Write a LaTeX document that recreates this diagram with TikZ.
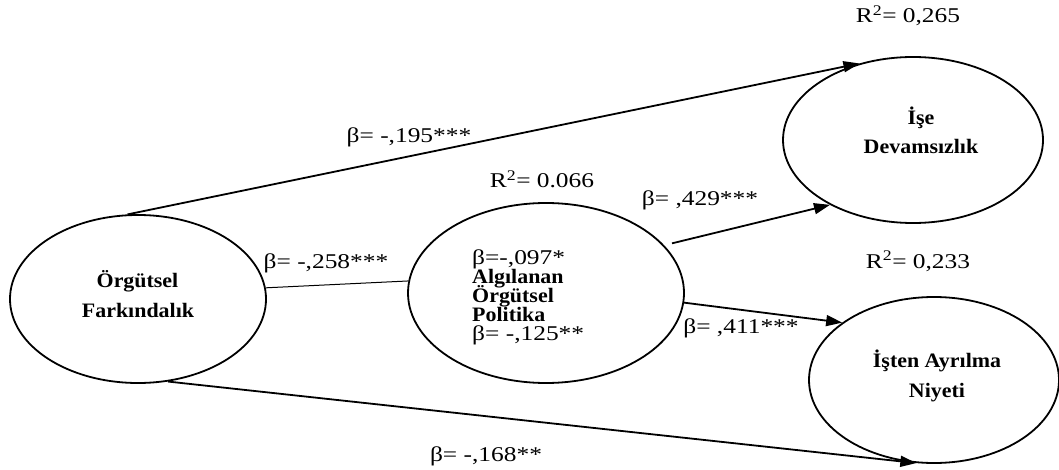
\documentclass[tikz,border=0pt]{standalone}
\usepackage{fontspec}
\setmainfont{Liberation Serif}[FakeStretch=1.21]
\newfontfamily\bfam{Liberation Serif}[FakeStretch=1.07]
\usetikzlibrary{shapes.geometric, arrows.meta}
\begin{document}
\begin{tikzpicture}[x=1pt,y=-1pt,
  ell/.style={ellipse, draw, line width=1.8pt, inner sep=0pt},
  lab/.style={anchor=base, inner sep=0pt, font=\fontsize{21}{21}\selectfont},
  blab/.style={anchor=base, inner sep=0pt, font=\bfam\bfseries\fontsize{20.5}{20.5}\selectfont},
  arr/.style={line width=1.8pt, -{Triangle[length=16pt,width=11pt]}},
  thin/.style={line width=1pt}
]
\useasboundingbox[fill=white] (0,0) rectangle (1059,470);

% ellipses
\node[ell, minimum width=256pt, minimum height=168pt] (E1) at (138,299) {};
\node[ell, minimum width=276pt, minimum height=180pt] (E2) at (546,293) {};
\node[ell, minimum width=260pt, minimum height=166pt] (E3) at (913,140) {};
\node[ell, minimum width=250pt, minimum height=166pt] (E4) at (934,380) {};

% ellipse texts
\node[blab] (t1a) at (137.5,287) {Örgütsel};
\node[blab] (t1b) at (138,317) {Farkındalık};
\node[blab] (t3a) at (921,125) {İşe};
\node[blab] (t3b) at (921,154) {Devamsızlık};
\node[blab] (t4a) at (937,367) {İşten Ayrılma};
\node[blab] (t4b) at (937,397) {Niyeti};

\node[lab, anchor=base west] (t2a) at (472,264) {β=-,097*};
\node[blab, anchor=base west] (t2b) at (472,283) {Algılanan};
\node[blab, anchor=base west] (t2c) at (472,302) {Örgütsel};
\node[blab, anchor=base west] (t2d) at (472,321) {Politika};
\node[lab, anchor=base west] (t2e) at (472,340) {β= -,125**};

% connectors
\draw[arr] (E1.97) -- (E3.125);
\draw[thin] (E1.5) -- (E2.175);
\draw[arr, shorten <=8pt] (E2.22) -- (E3.218);
\draw[arr] (E2.-4) -- (E4.148);
\draw[arr] (E1.290) -- (E4.258);

% labels
\node[lab] (l195) at (409,143) {β= -,195***};
\node[lab] (r066) at (542,188) {R\textsuperscript{2}= 0.066};
\node[lab] (l258) at (326,269) {β= -,258***};
\node[lab] (l429) at (700,206) {β= ,429***};
\node[lab] (l411) at (741,333) {β= ,411***};
\node[lab] (r233) at (918,268) {R\textsuperscript{2}= 0,233};
\node[lab] (r265) at (908,23) {R\textsuperscript{2}= 0,265};
\node[lab] (l168) at (486,461) {β= -,168**};
\end{tikzpicture}
\end{document}
